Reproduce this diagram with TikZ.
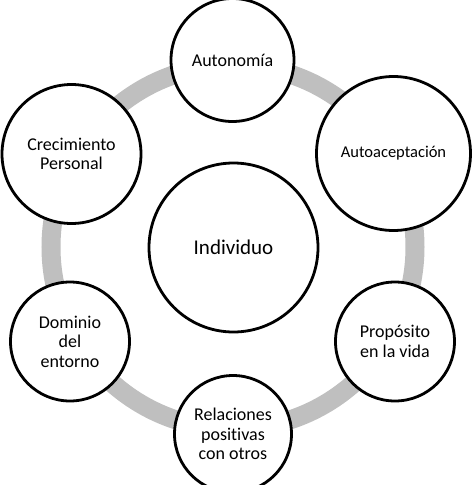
\documentclass[tikz,border=0pt]{standalone}
\usepackage{fontspec}
\setmainfont{Carlito}[Ligatures=NoCommon]
\usepackage{xcolor}
\definecolor{ringgray}{rgb}{0.75,0.75,0.75}
\tikzset{
  petal/.style={circle, draw=black, line width=2.8pt, fill=white,
    inner sep=0pt, align=center, font=\fontsize{18}{19.5}\selectfont},
}

\begin{document}
\begin{tikzpicture}[x=1pt,y=-1pt]
        % frame
        \useasboundingbox (0,0) rectangle (474,485);
        \clip (0,0) rectangle (474,485);
        % ring
        \draw[ringgray, line width=19pt] (233,247) circle[radius=182];
        % centre
        \node[petal, minimum size=169pt, font=\fontsize{21}{24}\selectfont] (individuo) at (233.5,247.5) {Individuo};
        % dimensions
        \node[petal, minimum size=123pt] (autonomia) at (232.5,60) {Autonom\'ia};
        \node[petal, minimum size=154pt, font=\fontsize{16.5}{20}\selectfont] (autoaceptacion) at (393.5,153.5) {Autoaceptaci\'on};
        \node[petal, minimum size=119pt] (proposito) at (395,341.5) {Prop\'osito\\en la vida};
        \node[petal, minimum size=117pt] (relaciones) at (233,434) {Relaciones\\positivas\\con otros};
        \node[petal, minimum size=119pt] (dominio) at (70,341.5) {Dominio\\del\\entorno};
        \node[petal, minimum size=139pt] (crecimiento) at (71.5,154) {Crecimiento\\Personal};
    \end{tikzpicture}
\end{document}
